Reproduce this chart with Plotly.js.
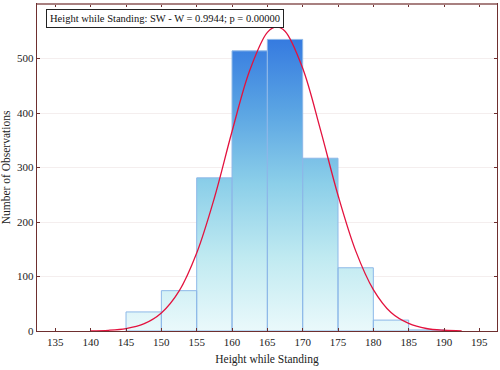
<!DOCTYPE html>
<html>
<head>
<meta charset="utf-8">
<script src="https://cdn.plot.ly/plotly-3.0.1.min.js"></script>
<style>html,body{margin:0;padding:0;background:#fff}#chart{width:500px;height:370px}</style>
</head>
<body>
<div id="chart"></div>
<script>
// Histogram bins (lower edges), bin width and counts
var binStarts = [145, 150, 155, 160, 165, 170, 175, 180, 185];
var binWidth = 5;
var counts = [35, 74, 281, 514, 535, 317, 116, 20, 2];

// Fitted normal curve
var curveX = [140, 142.5, 145, 147.5, 150, 152.5, 155, 157.5, 160, 162.5, 165, 166.25, 167.5, 170, 172.5, 175, 177.5, 180, 182.5, 185, 187.5, 190, 192.5];
var curveY = [0.4, 1.3, 4.4, 12.9, 33, 73, 143, 244, 366, 478, 548, 558, 550, 482, 370, 249, 147, 76, 34, 14, 4.6, 1.4, 0.4];

var xTicks = [135, 140, 145, 150, 155, 160, 165, 170, 175, 180, 185, 190, 195];
var yTicks = [0, 100, 200, 300, 400, 500, 600];

var annotationText = 'Height while Standing: SW - W = 0.9944; p = 0.00000';
var xTitle = 'Height while Standing';
var yTitle = 'Number of Observations';

// Build bar polygons from the bins
var px = [], py = [];
for (var i = 0; i < binStarts.length; i++) {
  var x0 = binStarts[i], x1 = binStarts[i] + binWidth, c = counts[i];
  px.push(x0, x0, x1, x1, x0, null);
  py.push(0, c, c, 0, 0, null);
}

var serif = 'Liberation Serif, DejaVu Serif, serif';
var axisColor = '#6e2f2f';

var traces = [
  {
    type: 'scatter', mode: 'lines', x: px, y: py,
    fill: 'toself', connectgaps: false,
    fillgradient: {type: 'vertical', start: 0, stop: 540,
      colorscale: [[0, '#eaf9fb'], [0.25, '#c0eaf1'], [0.5, '#8ccfe9'], [0.75, '#5aa4e3'], [1, '#3479e0']]},
    line: {color: '#8db8e8', width: 1},
    hoverinfo: 'skip', showlegend: false
  },
  {
    type: 'scatter', mode: 'lines', x: curveX, y: curveY,
    line: {color: '#e3123e', width: 1.3, shape: 'spline', smoothing: 1},
    showlegend: false
  }
];

var layout = {
  width: 500, height: 370,
  margin: {l: 37, r: 3, t: 4, b: 39},
  paper_bgcolor: '#ffffff', plot_bgcolor: '#ffffff',
  font: {family: serif, size: 11, color: '#222'},
  xaxis: {
    range: [132.4, 197.5], tickvals: xTicks, ticktext: xTicks.map(String),
    showgrid: false, zeroline: false,
    showline: true, linecolor: axisColor, linewidth: 1.3, mirror: 'ticks',
    ticks: 'inside', ticklen: 3, tickcolor: axisColor,
    tickfont: {family: serif, size: 11, color: '#222'},
    title: {text: xTitle, font: {family: serif, size: 11.5, color: '#222'}, standoff: 8}
  },
  yaxis: {
    range: [0, 600], tickvals: yTicks, ticktext: yTicks.map(String),
    showgrid: true, gridcolor: '#f4eeee', gridwidth: 1, zeroline: false,
    showline: true, linecolor: axisColor, linewidth: 1.3, mirror: 'ticks',
    ticks: 'inside', ticklen: 3, tickcolor: axisColor,
    tickfont: {family: serif, size: 11, color: '#222'},
    title: {text: yTitle, font: {family: serif, size: 11.5, color: '#222'}, standoff: 4}
  },
  shapes: [{
    type: 'line', xref: 'paper', yref: 'paper', x0: 0, x1: 1, y0: 1, y1: 1,
    line: {color: '#a88080', width: 2}
  }],
  annotations: [{
    text: annotationText, xref: 'paper', yref: 'paper', x: 0.02, y: 0.984,
    xanchor: 'left', yanchor: 'top', showarrow: false,
    font: {family: serif, size: 10.5, color: '#111'},
    bordercolor: '#222', borderwidth: 1, borderpad: 3, bgcolor: '#ffffff'
  }]
};

Plotly.newPlot('chart', traces, layout, {displayModeBar: false, staticPlot: true});
</script>
</body>
</html>
